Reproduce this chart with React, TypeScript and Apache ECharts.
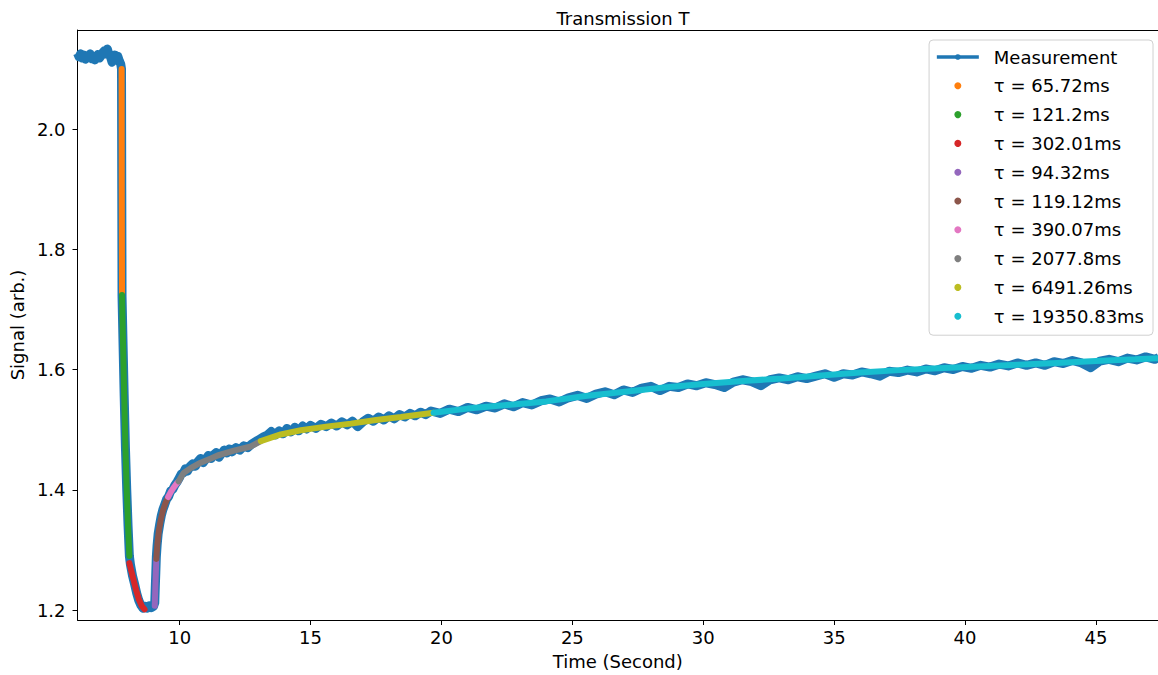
import React, { useEffect, useRef } from "react";
import * as echarts from "echarts";

// ---- data ----
const measurement: number[][] = [
  [6.10, 2.126], [6.16, 2.120], [6.22, 2.125], [6.28, 2.118], [6.34, 2.123], [6.40, 2.116],
  [6.46, 2.122], [6.52, 2.119], [6.58, 2.125], [6.64, 2.117], [6.70, 2.121], [6.76, 2.115],
  [6.82, 2.120], [6.88, 2.124], [6.94, 2.118], [7.00, 2.122], [7.06, 2.127], [7.12, 2.130],
  [7.18, 2.125], [7.24, 2.133], [7.30, 2.124], [7.36, 2.120], [7.42, 2.111], [7.46, 2.118],
  [7.52, 2.123], [7.58, 2.116], [7.64, 2.121], [7.70, 2.113], [7.75, 2.108], [7.78, 2.100],
  [7.79, 1.900], [7.80, 1.722], [7.84, 1.640], [7.88, 1.560], [7.93, 1.470], [7.98, 1.400],
  [8.03, 1.340], [8.08, 1.290], [8.12, 1.276], [8.20, 1.257], [8.28, 1.243], [8.36, 1.228],
  [8.44, 1.216], [8.52, 1.208], [8.60, 1.203], [8.68, 1.206], [8.76, 1.203], [8.84, 1.207],
  [8.92, 1.204], [9.00, 1.206], [9.05, 1.212], [9.07, 1.238], [9.09, 1.262], [9.11, 1.288],
  [9.14, 1.308], [9.18, 1.327], [9.24, 1.343], [9.30, 1.357], [9.36, 1.367], [9.42, 1.374],
  [9.50, 1.384], [9.58, 1.389], [9.66, 1.398], [9.74, 1.401], [9.82, 1.408], [9.90, 1.413],
  [9.98, 1.419], [10.06, 1.426], [10.14, 1.428], [10.22, 1.435], [10.30, 1.431], [10.40, 1.439],
  [10.50, 1.443], [10.60, 1.439], [10.70, 1.447], [10.80, 1.452], [10.90, 1.445], [11.00, 1.451],
  [11.10, 1.457], [11.20, 1.452], [11.30, 1.458], [11.40, 1.462], [11.50, 1.454], [11.60, 1.460],
  [11.70, 1.466], [11.80, 1.461], [11.90, 1.468], [12.00, 1.463], [12.15, 1.470], [12.30, 1.466],
  [12.45, 1.473], [12.60, 1.470], [12.75, 1.476], [12.90, 1.480], [13.05, 1.484], [13.20, 1.488],
  [13.35, 1.491], [13.50, 1.497], [13.65, 1.491], [13.80, 1.498], [13.95, 1.493], [14.10, 1.502],
  [14.25, 1.496], [14.40, 1.504], [14.55, 1.498], [14.70, 1.506], [14.85, 1.501], [15.00, 1.507],
  [15.20, 1.502], [15.40, 1.509], [15.60, 1.505], [15.80, 1.511], [16.00, 1.506], [16.20, 1.513],
  [16.40, 1.508], [16.60, 1.514], [16.80, 1.505], [17.00, 1.513], [17.20, 1.519], [17.40, 1.514],
  [17.60, 1.521], [17.80, 1.516], [18.00, 1.523], [18.20, 1.518], [18.40, 1.525], [18.60, 1.521],
  [18.80, 1.527], [19.00, 1.523], [19.20, 1.529], [19.40, 1.525], [19.60, 1.531], [19.95, 1.527],
  [20.30, 1.534], [20.65, 1.530], [21.00, 1.537], [21.35, 1.533], [21.70, 1.539], [22.05, 1.536],
  [22.40, 1.543], [22.75, 1.538], [23.10, 1.545], [23.45, 1.541], [23.80, 1.548], [24.15, 1.551],
  [24.50, 1.546], [24.85, 1.553], [25.20, 1.557], [25.55, 1.552], [25.90, 1.559], [26.25, 1.563],
  [26.60, 1.558], [26.95, 1.566], [27.30, 1.562], [27.65, 1.569], [28.00, 1.572], [28.35, 1.565],
  [28.70, 1.572], [29.05, 1.570], [29.40, 1.576], [29.75, 1.573], [30.10, 1.578], [30.45, 1.575],
  [30.80, 1.570], [31.15, 1.579], [31.50, 1.583], [31.85, 1.580], [32.20, 1.573], [32.55, 1.583],
  [32.90, 1.586], [33.25, 1.583], [33.60, 1.588], [33.95, 1.585], [34.30, 1.589], [34.65, 1.593],
  [35.00, 1.587], [35.35, 1.593], [35.70, 1.591], [36.05, 1.596], [36.40, 1.593], [36.75, 1.589],
  [37.10, 1.597], [37.45, 1.595], [37.80, 1.599], [38.15, 1.596], [38.50, 1.601], [38.85, 1.598],
  [39.20, 1.603], [39.55, 1.600], [39.90, 1.605], [40.25, 1.602], [40.60, 1.607], [40.95, 1.604],
  [41.30, 1.609], [41.65, 1.606], [42.00, 1.611], [42.35, 1.607], [42.70, 1.611], [43.05, 1.607],
  [43.40, 1.613], [43.75, 1.610], [44.10, 1.615], [44.45, 1.611], [44.80, 1.603], [45.15, 1.614],
  [45.50, 1.617], [45.85, 1.613], [46.20, 1.619], [46.55, 1.616], [46.90, 1.621], [47.25, 1.617],
  [47.40, 1.620],
];

const fit1: number[][] = [[7.785, 2.100], [7.79, 1.900], [7.80, 1.724]];
const fit2: number[][] = [[7.80, 1.724], [7.84, 1.640], [7.88, 1.560], [7.93, 1.470], [7.98, 1.400], [8.03, 1.340], [8.08, 1.290]];
const fit3: number[][] = [[8.08, 1.278], [8.20, 1.257], [8.32, 1.236], [8.44, 1.218], [8.55, 1.207], [8.66, 1.201]];
const fit4: number[][] = [[9.05, 1.207], [9.07, 1.235], [9.09, 1.260], [9.11, 1.285]];
const fit5: number[][] = [[9.11, 1.285], [9.15, 1.310], [9.21, 1.333], [9.28, 1.350], [9.36, 1.365], [9.46, 1.378], [9.56, 1.388]];
const fit6: number[][] = [[9.56, 1.388], [9.66, 1.396], [9.76, 1.403], [9.88, 1.410], [9.96, 1.414]];
const fit7: number[][] = [[9.96, 1.414], [10.15, 1.428], [10.42, 1.436], [10.80, 1.445], [11.19, 1.452], [11.45, 1.457], [12.07, 1.465], [12.72, 1.472], [13.10, 1.481]];
const fit8: number[][] = [[13.10, 1.481], [13.86, 1.492], [14.63, 1.499], [15.59, 1.505], [16.54, 1.510], [17.50, 1.516], [18.45, 1.521], [19.70, 1.528]];
const fit9: number[][] = [[19.70, 1.528], [21.0, 1.535], [22.5, 1.541], [24.0, 1.547], [25.5, 1.556], [27.0, 1.563], [28.5, 1.570], [30.0, 1.576], [31.5, 1.581], [33.0, 1.585], [34.5, 1.590], [36.0, 1.595], [37.5, 1.599], [39.0, 1.602], [40.5, 1.605], [42.0, 1.608], [43.5, 1.611], [45.0, 1.614], [46.5, 1.617], [47.4, 1.619]];

const fitNames = [
  "τ = 65.72ms", "τ = 121.2ms", "τ = 302.01ms", "τ = 94.32ms", "τ = 119.12ms",
  "τ = 390.07ms", "τ = 2077.8ms", "τ = 6491.26ms", "τ = 19350.83ms",
];
const fitData = [fit1, fit2, fit3, fit4, fit5, fit6, fit7, fit8, fit9];
const fitColors = ["#ff7f0e", "#2ca02c", "#d62728", "#9467bd", "#8c564b", "#e377c2", "#7f7f7f", "#bcbd22", "#17becf"];

const xTicks = [10, 15, 20, 25, 30, 35, 40, 45];
const yTicks = [1.2, 1.4, 1.6, 1.8, 2.0];
const xRange = [6.1, 47.37];
const yRange = [1.1834, 2.1647];

const FONT = "DejaVu Sans";

export default function App() {
  const ref = useRef<HTMLDivElement>(null);
  useEffect(() => {
    if (!ref.current) return;
    const chart = echarts.init(ref.current, null, { renderer: "svg" });
    const axisLineStyle = { color: "#000", width: 1 };
    const option: any = {
      animation: false,
      backgroundColor: "#fff",
      title: {
        text: "Transmission T",
        left: 618,
        top: 4,
        textAlign: "center",
        textStyle: { fontFamily: FONT, fontSize: 18, fontWeight: "normal", color: "#000" },
      },
      grid: { left: 77, right: 0, top: 30, bottom: 55 },
      legend: {
        right: 5,
        top: 40,
        orient: "vertical",
        itemWidth: 42,
        itemHeight: 7,
        itemGap: 10.8,
        padding: [8, 9, 10, 6],
        borderColor: "#d0d0d0",
        borderWidth: 1,
        borderRadius: 4,
        backgroundColor: "rgba(255,255,255,0.85)",
        textStyle: { fontFamily: FONT, fontSize: 18, lineHeight: 18, color: "#000", padding: [0, 0, 0, 10] },
        data: [
          { name: "Measurement", lineStyle: { width: 3.5 } },
          ...fitNames.map((n) => ({ name: n, icon: "circle" })),
        ],
      },
      xAxis: [
        {
          type: "value",
          min: xRange[0],
          max: xRange[1],
          position: "bottom",
          name: "Time (Second)",
          nameLocation: "middle",
          nameGap: 32,
          nameTextStyle: { fontFamily: FONT, fontSize: 18, color: "#000" },
          axisLine: { show: true, lineStyle: axisLineStyle },
          axisTick: { show: true, inside: false, length: 5, lineStyle: axisLineStyle, customValues: xTicks },
          axisLabel: {
            fontFamily: FONT, fontSize: 18, color: "#000", margin: 8, customValues: xTicks,
            formatter: (v: number) => String(Math.round(v)),
          },
          splitLine: { show: false },
        },
        {
          type: "value",
          min: xRange[0],
          max: xRange[1],
          position: "top",
          axisLine: { show: true, lineStyle: axisLineStyle },
          axisTick: { show: false },
          axisLabel: { show: false },
          splitLine: { show: false },
        },
      ],
      yAxis: {
        type: "value",
        min: yRange[0],
        max: yRange[1],
        name: "Signal (arb.)",
        nameLocation: "middle",
        nameGap: 43,
        nameRotate: 90,
        nameTextStyle: { fontFamily: FONT, fontSize: 18, color: "#000" },
        axisLine: { show: true, lineStyle: axisLineStyle },
        axisTick: { show: true, inside: false, length: 5, lineStyle: axisLineStyle, customValues: yTicks },
        axisLabel: {
          fontFamily: FONT, fontSize: 18, color: "#000", margin: 12, customValues: yTicks,
          formatter: (v: number) => v.toFixed(1),
        },
        splitLine: { show: false },
      },
      series: [
        {
          name: "Measurement",
          type: "line",
          xAxisIndex: 0,
          data: measurement,
          showSymbol: false,
          symbol: "circle",
          symbolSize: 4,
          color: "#1f77b4",
          lineStyle: { width: 9, color: "#1f77b4", join: "round" },
          silent: true,
        },
        ...fitNames.map((n, i) => ({
          name: n,
          type: "line",
          xAxisIndex: 0,
          data: fitData[i],
          showSymbol: false,
          symbol: "circle",
          color: fitColors[i],
          lineStyle: { width: 6, color: fitColors[i], cap: "round" },
          silent: true,
        })),
      ],
    };
    chart.setOption(option);
    return () => chart.dispose();
  }, []);
  return (
    <div
      ref={ref}
      style={{ position: "fixed", left: 0, top: 0, width: 1158, height: 675, background: "#fff" }}
    />
  );
}
